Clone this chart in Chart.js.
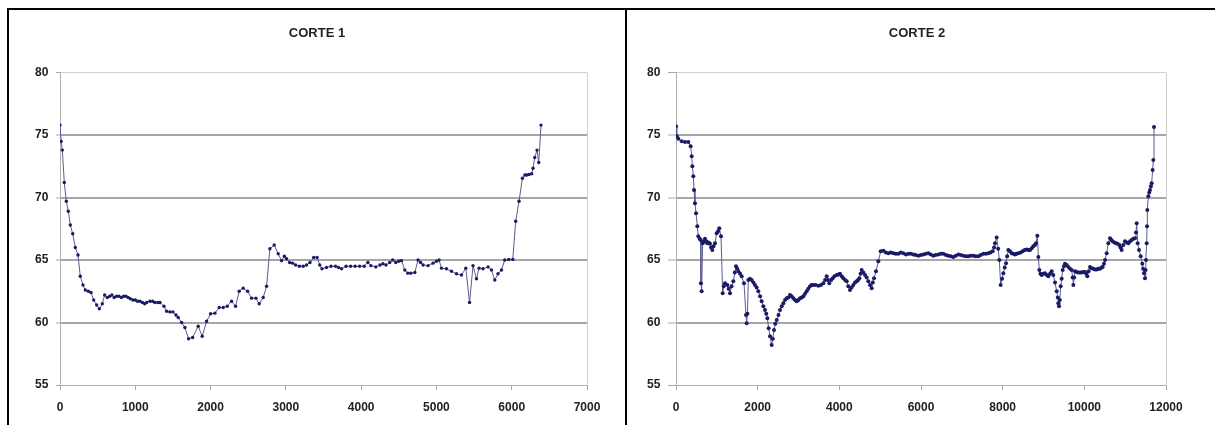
<!DOCTYPE html>
<html>
<head>
<meta charset="utf-8">
<title>Cortes</title>
<script src="https://cdn.jsdelivr.net/npm/chart.js@4.4.1/dist/chart.umd.min.js"></script>
<style>
  html, body { margin: 0; padding: 0; background: #fff; }
  body { width: 1215px; height: 425px; position: relative; overflow: hidden; }
  .frame { position: absolute; left: 7px; top: 8px; width: 1300px; height: 500px;
           border-left: 2px solid #000; border-top: 2px solid #000; }
  .divider { position: absolute; left: 625px; top: 8px; width: 2px; height: 420px; background: #000; }
  .box { position: absolute; top: 10px; height: 415px; }
  #box1 { left: 10px; width: 614px; }
  #box2 { left: 628px; width: 587px; }
</style>
</head>
<body>
<div class="frame"></div>
<div class="divider"></div>
<div class="box" id="box1"><canvas id="corte1"></canvas></div>
<div class="box" id="box2"><canvas id="corte2"></canvas></div>

<script>
// CORTE 1
const corte1X = [0, 15, 31, 57, 84, 110, 137, 169, 203, 239, 269, 305, 336, 376, 412, 447, 487, 522, 562, 593,
  628, 660, 690, 720, 750, 783, 815, 845, 876, 905, 935, 969, 1000, 1030, 1062, 1095, 1125, 1151, 1195, 1230,
  1261, 1300, 1328, 1381, 1416, 1460, 1500, 1540, 1570, 1616, 1659, 1708, 1762, 1836, 1889, 1947, 2001, 2058, 2115, 2168,
  2221, 2279, 2332, 2380, 2433, 2492, 2545, 2602, 2646, 2699, 2744, 2788, 2845, 2898, 2943, 2980, 3009, 3050, 3090, 3130,
  3180, 3230, 3275, 3320, 3370, 3415, 3450, 3480, 3540, 3600, 3660, 3700, 3740, 3800, 3860, 3920, 3980, 4040, 4090, 4130,
  4195, 4250, 4290, 4330, 4380, 4420, 4460, 4500, 4536, 4580, 4620, 4660, 4713, 4756, 4790, 4823, 4889, 4955, 5000, 5035,
  5067, 5133, 5200, 5266, 5333, 5390, 5440, 5486, 5532, 5566, 5619, 5686, 5731, 5775, 5818, 5864, 5907, 5960, 6014, 6053,
  6097, 6142, 6175, 6199, 6230, 6266, 6283, 6306, 6336, 6359, 6389];
const corte1Y = [75.8, 74.5, 73.8, 71.2, 69.7, 68.9, 67.8, 67.1, 66.0, 65.4, 63.7, 63.0, 62.6, 62.5, 62.4, 61.8, 61.4, 61.1, 61.5, 62.2,
  62.0, 62.1, 62.2, 62.0, 62.1, 62.1, 62.0, 62.1, 62.1, 62.0, 61.9, 61.8, 61.8, 61.7, 61.7, 61.6, 61.5, 61.6, 61.7, 61.7,
  61.6, 61.6, 61.6, 61.3, 60.9, 60.85, 60.85, 60.6, 60.4, 60.0, 59.6, 58.7, 58.8, 59.7, 58.9, 60.1, 60.7, 60.75, 61.2, 61.2,
  61.3, 61.7, 61.3, 62.5, 62.75, 62.5, 61.95, 61.95, 61.5, 62.0, 62.9, 65.9, 66.2, 65.5, 64.95, 65.3, 65.1, 64.8, 64.75, 64.6,
  64.5, 64.5, 64.6, 64.8, 65.2, 65.2, 64.6, 64.3, 64.4, 64.5, 64.5, 64.4, 64.3, 64.5, 64.5, 64.5, 64.5, 64.5, 64.8, 64.55,
  64.45, 64.6, 64.7, 64.6, 64.8, 65.0, 64.8, 64.9, 64.95, 64.2, 63.95, 63.95, 64.0, 65.0, 64.8, 64.6, 64.55, 64.75, 64.9, 65.0,
  64.35, 64.3, 64.1, 63.9, 63.8, 64.35, 61.6, 64.55, 63.5, 64.35, 64.3, 64.45, 64.2, 63.4, 63.9, 64.2, 65.0, 65.05, 65.05, 68.1,
  69.7, 71.55, 71.8, 71.8, 71.85, 71.9, 72.35, 73.2, 73.8, 72.8, 75.8];

// CORTE 2
const corte2X = [0, 20, 57, 139, 220, 302, 359, 384, 400, 424, 441, 465, 490, 522, 546, 580, 604, 610, 628, 653,
  680, 710, 740, 767, 800, 833, 860, 890, 920, 955, 996, 1030, 1061, 1102, 1143, 1170, 1200, 1257, 1290, 1322,
  1360, 1404, 1440, 1469, 1500, 1527, 1570, 1608, 1665, 1714, 1730, 1750, 1771, 1810, 1853, 1895, 1935, 1975, 2016, 2060,
  2098, 2140, 2180, 2210, 2237, 2269, 2302, 2343, 2370, 2400, 2430, 2466, 2510, 2547, 2590, 2629, 2670, 2710, 2750, 2792,
  2830, 2874, 2915, 2955, 3000, 3037, 3080, 3119, 3160, 3200, 3240, 3282, 3320, 3364, 3420, 3486, 3550, 3608, 3650, 3690,
  3720, 3755, 3800, 3837, 3880, 3935, 3975, 4016, 4060, 4098, 4140, 4180, 4220, 4261, 4300, 4343, 4385, 4425, 4460, 4490,
  4520, 4547, 4588, 4629, 4670, 4710, 4751, 4792, 4820, 4849, 4898, 4955, 5013, 5078, 5140, 5200, 5260, 5323, 5385, 5445,
  5505, 5567, 5630, 5690, 5750, 5812, 5870, 5934, 5995, 6057, 6120, 6180, 6240, 6302, 6360, 6424, 6485, 6547, 6610, 6669,
  6730, 6792, 6850, 6914, 6975, 7037, 7100, 7159, 7220, 7282, 7340, 7404, 7465, 7526, 7590, 7649, 7700, 7755, 7790, 7812,
  7853, 7890, 7918, 7951, 7985, 8016, 8050, 8082, 8110, 8139, 8180, 8221, 8260, 8302, 8340, 8384, 8440, 8490, 8540, 8588,
  8630, 8670, 8710, 8751, 8790, 8817, 8849, 8874, 8898, 8925, 8955, 9000, 9037, 9080, 9118, 9160, 9200, 9240, 9282, 9323,
  9350, 9363, 9380, 9400, 9421, 9445, 9470, 9500, 9527, 9570, 9608, 9650, 9690, 9715, 9731, 9750, 9772, 9810, 9853, 9895,
  9935, 9975, 10016, 10045, 10073, 10105, 10139, 10180, 10220, 10260, 10302, 10340, 10384, 10420, 10449, 10480, 10506, 10547, 10588, 10629,
  10660, 10694, 10735, 10776, 10815, 10857, 10885, 10914, 10955, 10996, 11040, 11078, 11120, 11159, 11200, 11241, 11265, 11282, 11306, 11339,
  11380, 11420, 11440, 11461, 11486, 11500, 11510, 11527, 11535, 11543, 11567, 11590, 11608, 11630, 11649, 11673, 11690, 11706];
const corte2Y = [75.7, 74.9, 74.7, 74.5, 74.45, 74.45, 74.1, 73.3, 72.5, 71.7, 70.6, 69.55, 68.75, 67.7, 66.9, 66.7, 66.6, 63.15, 62.5, 66.35,
  66.5, 66.7, 66.5, 66.35, 66.4, 66.3, 66.0, 65.8, 66.1, 66.35, 67.15, 67.3, 67.55, 66.9, 62.35, 62.9, 63.15, 63.0, 62.7, 62.35,
  62.9, 63.3, 64.0, 64.5, 64.3, 64.1, 63.9, 63.7, 63.15, 60.6, 59.95, 60.7, 63.4, 63.5, 63.4, 63.2, 63.0, 62.8, 62.5, 62.1,
  61.7, 61.3, 61.0, 60.7, 60.35, 59.55, 58.9, 58.2, 58.7, 59.4, 59.9, 60.2, 60.6, 61.0, 61.3, 61.55, 61.8, 61.95, 62.0, 62.2,
  62.1, 61.95, 61.8, 61.7, 61.8, 61.95, 62.0, 62.1, 62.3, 62.5, 62.7, 62.9, 63.0, 63.0, 63.0, 62.95, 63.0, 63.15, 63.4, 63.7,
  63.4, 63.15, 63.4, 63.55, 63.7, 63.8, 63.85, 63.9, 63.7, 63.55, 63.4, 63.3, 62.9, 62.6, 62.8, 63.0, 63.2, 63.3, 63.4, 63.55,
  63.9, 64.2, 64.0, 63.8, 63.6, 63.3, 63.0, 62.75, 63.2, 63.55, 64.1, 64.9, 65.7, 65.75, 65.6, 65.55, 65.6, 65.55, 65.5, 65.5,
  65.6, 65.55, 65.45, 65.5, 65.5, 65.45, 65.4, 65.35, 65.4, 65.45, 65.5, 65.55, 65.45, 65.35, 65.4, 65.45, 65.5, 65.5, 65.4, 65.35,
  65.3, 65.25, 65.35, 65.45, 65.4, 65.35, 65.3, 65.3, 65.35, 65.35, 65.3, 65.3, 65.4, 65.5, 65.5, 65.55, 65.6, 65.7, 66.0, 66.35,
  66.8, 65.9, 65.0, 63.0, 63.5, 63.95, 64.4, 64.75, 65.3, 65.8, 65.7, 65.55, 65.5, 65.45, 65.5, 65.55, 65.6, 65.7, 65.8, 65.85,
  65.8, 65.8, 65.95, 66.1, 66.2, 66.35, 66.95, 65.25, 64.2, 63.9, 63.8, 63.9, 63.95, 63.8, 63.7, 63.9, 64.1, 63.8, 63.2, 62.5,
  62.0, 61.55, 61.3, 61.8, 62.9, 63.5, 64.2, 64.5, 64.7, 64.6, 64.45, 64.3, 64.2, 63.6, 63.0, 63.6, 64.1, 64.05, 64.0, 64.0,
  64.0, 64.05, 64.05, 63.9, 63.7, 64.1, 64.45, 64.35, 64.3, 64.25, 64.25, 64.3, 64.3, 64.4, 64.45, 64.7, 65.0, 65.55, 66.35, 66.75,
  66.6, 66.5, 66.4, 66.35, 66.3, 66.2, 66.0, 65.8, 66.2, 66.5, 66.4, 66.35, 66.5, 66.6, 66.7, 66.75, 67.2, 67.95, 66.35, 65.8,
  65.3, 64.7, 64.3, 63.95, 63.55, 64.2, 65.0, 66.35, 67.7, 69.0, 70.1, 70.4, 70.6, 70.9, 71.15, 72.2, 73.0, 75.65];

const yTicks = [55, 60, 65, 70, 75, 80];

const tickFont = { family: "'Liberation Sans', Arial, sans-serif", size: 12, weight: 'bold' };

function toPoints(xs, ys) {
  return xs.map((x, i) => ({ x: x, y: ys[i] }));
}

// y labels are mirrored with a negative padding so they can sit left of the
// narrow y scale box without being clipped; the side padding keeps the title centred
function cutChart(id, title, xs, ys, xMax, xStep, pad, yAxisWidth, yTickLength, yLabelShift, dot) {
  return new Chart(document.getElementById(id), {
    type: 'scatter',
    data: {
      datasets: [{
        data: toPoints(xs, ys),
        showLine: true,
        borderColor: '#5c5c8e',
        borderWidth: 1,
        pointRadius: dot,
        pointBorderWidth: 0,
        pointBackgroundColor: '#1a1a66'
      }]
    },
    options: {
      responsive: true,
      maintainAspectRatio: false,
      animation: false,
      layout: { padding: { left: pad.left, right: pad.right, top: 0, bottom: 0 } },
      plugins: {
        legend: { display: false },
        tooltip: { enabled: false },
        title: {
          display: true,
          text: title,
          color: '#222',
          font: { family: "'Liberation Sans', Arial, sans-serif", size: 13, weight: 'bold' },
          padding: { top: 16, bottom: 31 }
        }
      },
      scales: {
        x: {
          type: 'linear',
          min: 0,
          max: xMax,
          ticks: {
            stepSize: xStep,
            padding: 10,
            maxRotation: 0,
            color: '#222',
            font: tickFont,
            callback: v => String(v)
          },
          grid: {
            color: ctx => (ctx.tick && ctx.tick.value === xMax) ? '#d0d0d0' : 'rgba(0,0,0,0)',
            lineWidth: 1,
            tickColor: '#a8a8a8',
            tickLength: 5,
            tickWidth: 1
          },
          border: { color: '#b0b0b0', width: 1 },
          afterFit: s => { s.height = 40; }
        },
        y: {
          min: 55,
          max: 80,
          afterBuildTicks: s => { s.ticks = yTicks.map(v => ({ value: v })); },
          ticks: {
            mirror: true,
            padding: yLabelShift,
            color: '#222',
            font: tickFont
          },
          grid: {
            color: ctx => {
              const v = ctx.tick ? ctx.tick.value : 0;
              if (v === 80) return '#d0d0d0';
              if (v === 55) return '#b0b0b0';
              return '#a6a6a6';
            },
            lineWidth: ctx => (ctx.tick && ctx.tick.value > 55 && ctx.tick.value < 80) ? 2 : 1,
            tickColor: '#a8a8a8',
            tickLength: yTickLength,
            tickWidth: 1
          },
          border: { color: '#b0b0b0', width: 1 },
          afterFit: s => { s.width = yAxisWidth; }
        }
      }
    }
  });
}

cutChart('corte1', 'CORTE 1', corte1X, corte1Y, 7000, 1000, { left: 37, right: 37 }, 13, 4, -25, 1.7);
cutChart('corte2', 'CORTE 2', corte2X, corte2Y, 12000, 2000, { left: 40, right: 49 }, 8, 8, -29, 2);
</script>
</body>
</html>
